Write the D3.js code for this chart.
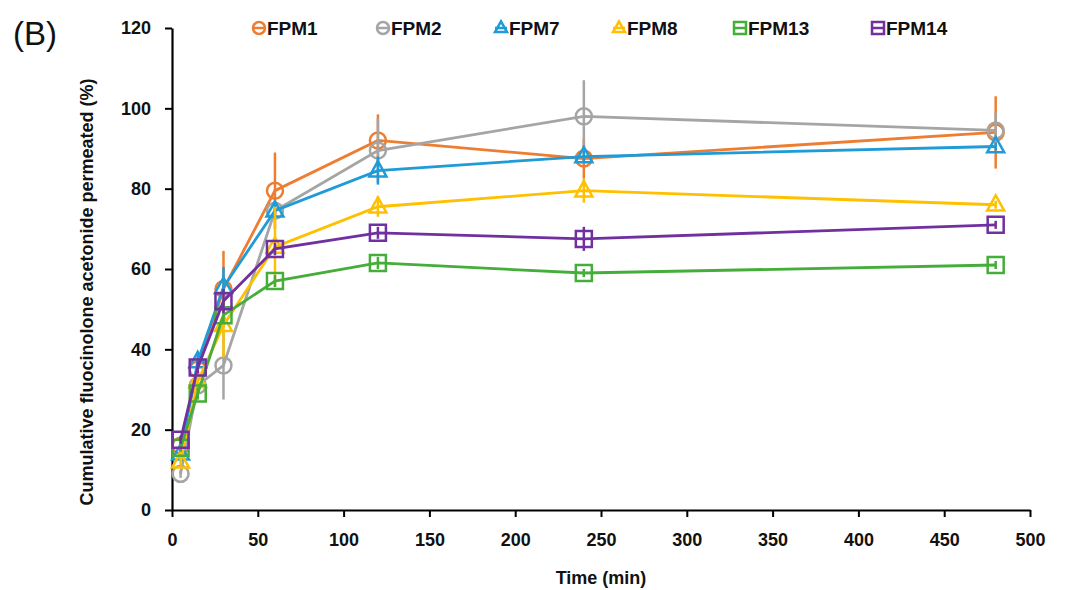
<!DOCTYPE html>
<html>
<head>
<meta charset="utf-8">
<script src="https://cdn.jsdelivr.net/npm/d3@7"></script>
<style>
  body { margin: 0; background: #fff; }
  text { font-family: "Liberation Sans Narrow", "Liberation Sans", Arial, sans-serif; }
</style>
</head>
<body>
<div id="chart"></div>
<script>
// time points (min)
var times = [5, 15, 30, 60, 120, 240, 480];

var seriesNames = ["FPM1", "FPM2", "FPM7", "FPM8", "FPM13", "FPM14"];
var seriesColors = ["#ED7D31", "#A5A5A5", "#1F9BD7", "#FFC000", "#45AD3A", "#7030A0"];
var seriesShapes = ["circle", "circle", "triangle", "triangle", "square", "square"];

// mean values
var fpm1 = [16, 35, 55, 79.5, 92, 87.5, 94];
var fpm2 = [9, 31, 36, 74.5, 89.5, 98, 94.5];
var fpm7 = [14, 37, 55.5, 74.5, 84.5, 88, 90.5];
var fpm8 = [12, 32, 46, 65.5, 75.5, 79.5, 76];
var fpm13 = [15.5, 29, 48.5, 57, 61.5, 59, 61];
var fpm14 = [17.5, 35.5, 52, 65, 69, 67.5, 71];

// error bar half-lengths
var fpm1Err = [1.5, 3, 9.5, 9.5, 6.5, 5, 9];
var fpm2Err = [1, 2, 8.5, 2, 8, 9, 4.5];
var fpm7Err = [1, 2, 5, 2, 3.5, 1.5, 1];
var fpm8Err = [1, 2, 8, 10, 2.5, 3, 1];
var fpm13Err = [1, 1.5, 2, 1.5, 1.5, 1, 1];
var fpm14Err = [1, 1.5, 3, 1.5, 1.5, 3, 1];

var xTicks = [0, 50, 100, 150, 200, 250, 300, 350, 400, 450, 500];
var yTicks = [0, 20, 40, 60, 80, 100, 120];

var allMeans = [fpm1, fpm2, fpm7, fpm8, fpm13, fpm14];
var allErrs = [fpm1Err, fpm2Err, fpm7Err, fpm8Err, fpm13Err, fpm14Err];

var width = 1065, height = 590;
var margin = { top: 28, right: 35, bottom: 80, left: 172 };

var svg = d3.select("#chart").append("svg")
    .attr("width", width)
    .attr("height", height);

var x = d3.scaleLinear().domain([0, 500]).range([margin.left, width - margin.right]);
var y = d3.scaleLinear().domain([0, 120]).range([height - margin.bottom, margin.top]);

// axes
var xAxis = svg.append("g")
    .attr("transform", "translate(0," + y(0) + ")")
    .call(d3.axisBottom(x).tickValues(xTicks).tickSize(7).tickPadding(16).tickSizeOuter(0));
var yAxis = svg.append("g")
    .attr("transform", "translate(" + x(0) + ",0)")
    .call(d3.axisLeft(y).tickValues(yTicks).tickSize(7).tickPadding(14).tickSizeOuter(0));

[xAxis, yAxis].forEach(function (a) {
    a.select(".domain").attr("stroke", "#000").attr("stroke-width", 2.2);
    a.selectAll(".tick line").attr("stroke", "#000").attr("stroke-width", 2);
    a.selectAll(".tick text")
        .attr("fill", "#111")
        .style("font-size", "18px")
        .style("font-weight", "bold");
});

// axis titles
svg.append("text")
    .attr("x", (x(0) + x(500)) / 2)
    .attr("y", 584)
    .attr("text-anchor", "middle")
    .style("font-size", "18px")
    .style("font-weight", "bold")
    .attr("fill", "#111")
    .text("Time (min)");

svg.append("text")
    .attr("transform", "translate(93,292) rotate(-90)")
    .attr("text-anchor", "middle")
    .style("font-size", "18px")
    .style("font-weight", "bold")
    .attr("fill", "#111")
    .text("Cumulative fluocinolone acetonide permeated (%)");

svg.append("text")
    .attr("x", 13)
    .attr("y", 45)
    .style("font-size", "33px")
    .attr("fill", "#111")
    .text("(B)");

function markerPath(shape, s) {
    if (shape === "triangle") {
        var h = s * 0.9;
        return "M0," + (-h * 0.62) + "L" + (s / 2) + "," + (h * 0.38) + "L" + (-s / 2) + "," + (h * 0.38) + "Z";
    }
    if (shape === "square") {
        return "M" + (-s / 2) + "," + (-s / 2) + "h" + s + "v" + s + "h" + (-s) + "Z";
    }
    var r = s / 2;
    return "M" + r + ",0A" + r + "," + r + " 0 1,1 " + (-r) + ",0A" + r + "," + r + " 0 1,1 " + r + ",0Z";
}

var line = d3.line()
    .x(function (d) { return x(d.t); })
    .y(function (d) { return y(d.v); });

allMeans.forEach(function (means, i) {
    var color = seriesColors[i];
    var pts = times.map(function (t, j) { return { t: t, v: means[j], e: allErrs[i][j] }; });
    var g = svg.append("g").attr("class", "series");

    g.selectAll("line.err")
        .data(pts)
        .enter()
        .append("line")
        .attr("class", "err")
        .attr("x1", function (d) { return x(d.t); })
        .attr("x2", function (d) { return x(d.t); })
        .attr("y1", function (d) { return y(d.v - d.e); })
        .attr("y2", function (d) { return y(d.v + d.e); })
        .attr("stroke", color)
        .attr("stroke-width", 2.5);

    g.append("path")
        .datum(pts)
        .attr("d", line)
        .attr("fill", "none")
        .attr("stroke", color)
        .attr("stroke-width", 2.8);

    var size = seriesShapes[i] === "triangle" ? 17 : 16;
    g.selectAll("path.mk")
        .data(pts)
        .enter()
        .append("path")
        .attr("class", "mk")
        .attr("transform", function (d) { return "translate(" + x(d.t) + "," + y(d.v) + ")"; })
        .attr("d", markerPath(seriesShapes[i], size))
        .attr("fill", "none")
        .attr("stroke", color)
        .attr("stroke-width", 2.5);
});

// legend
var legendX = [259, 383, 501, 619, 740, 878];
var legend = svg.append("g").attr("class", "legend");
seriesNames.forEach(function (name, i) {
    var lg = legend.append("g").attr("transform", "translate(" + legendX[i] + ",28)");
    lg.append("line")
        .attr("x1", -6).attr("x2", 6)
        .attr("stroke", seriesColors[i]).attr("stroke-width", 2.5);
    lg.append("path")
        .attr("d", markerPath(seriesShapes[i], 12))
        .attr("fill", "none")
        .attr("stroke", seriesColors[i])
        .attr("stroke-width", 2.5);
    lg.append("text")
        .attr("x", 8)
        .attr("y", 7)
        .style("font-size", "19px")
        .style("font-weight", "bold")
        .attr("fill", "#111")
        .text(name);
});
</script>
</body>
</html>
